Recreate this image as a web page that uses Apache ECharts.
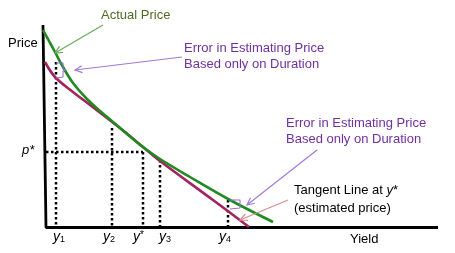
<!DOCTYPE html>
<html><head><meta charset="utf-8">
<script src="https://cdn.jsdelivr.net/npm/echarts@6/dist/echarts.min.js"></script>
<style>html,body{margin:0;padding:0;background:#fff}#c{width:455px;height:253px}</style>
</head><body><div id="c"></div>
<script>
// Data in chart units (x = yield, y = price)
const actualPrice = [[0.3,20.0],[1.5,17.8],[2.3,16.3],[3.3,14.7],[4.7,13.1],[6.0,11.9],[7.3,10.8],[8.7,9.6],[10.3,8.3],[12.0,7.1],[15.0,5.3],[19.0,3.0],[23.3,0.8]];
const tangentPrice = [[0.5,16.8],[1.5,15.3],[3.3,13.8],[5.0,12.5],[6.7,11.2],[8.5,9.8],[10.3,8.3],[12.0,6.9],[17.3,3.0],[20.9,0.3]];
const axisPath = [[0.3,20.5],[0.6,0.25],[39.8,0.25]];
const guideX = [1.6, 7.2, 10.3, 12.0, 18.8];
const guideTop = [16.8, 10.2, 7.8, 7.0, 3.0];
const pStar = 7.8;
const yStar = 10.3;
const axisBase = 0.3;
const axisLeft = 0.6;
const tickNames = ['1','2','*','3','4'];
const bracket1 = [[1.6,16.7],[2.3,16.7],[2.3,16.1],[2.6,16.0],[2.3,15.9],[2.3,15.3],[1.6,15.2]];
const bracket2 = [[19.0,3.0],[20.0,3.0],[20.0,2.6],[20.2,2.5],[20.0,2.4],[20.0,2.2],[19.0,2.1]];
// arrows: tailX, tailY, headX, headY
const arrowGreen = [6.3,20.5,1.5,17.7];
const arrowPurple1 = [14.2,17.3,3.5,16.0];
const arrowPurple2 = [27.7,8.0,20.7,2.5];
const arrowPink = [24.8,3.0,20.0,1.0];

const chart = echarts.init(document.getElementById('c'), null, {renderer:'canvas'});
const dotted = {color:'#000', width:2.5, type:[2.5,2.5], cap:'butt'};
const guideSeries = guideX.map((x,i)=>({
  type:'line', data:[[x,guideTop[i]],[x,axisBase]], symbol:'none', lineStyle:dotted, silent:true, z:1
}));
guideSeries.push({type:'line', data:[[axisLeft,pStar],[yStar,pStar]], symbol:'none', lineStyle:dotted, silent:true, z:1});

const arrows = [
  {value:arrowGreen, color:'#6aaa58'},
  {value:arrowPurple1, color:'#a07ad6'},
  {value:arrowPurple2, color:'#a07ad6'},
  {value:arrowPink, color:'#d49090'}
];

function renderArrow(params, api){
  const t = api.coord([api.value(0), api.value(1)]);
  const h = api.coord([api.value(2), api.value(3)]);
  const color = arrows[params.dataIndex].color;
  const ang = Math.atan2(t[1]-h[1], t[0]-h[0]);
  const L = 8, s = 0.45;
  const w1 = [h[0]+L*Math.cos(ang+s), h[1]+L*Math.sin(ang+s)];
  const w2 = [h[0]+L*Math.cos(ang-s), h[1]+L*Math.sin(ang-s)];
  return {type:'group', children:[
    {type:'line', shape:{x1:t[0],y1:t[1],x2:h[0],y2:h[1]}, style:{stroke:color, lineWidth:1.2}},
    {type:'polyline', shape:{points:[w1,h,w2]}, style:{stroke:color, lineWidth:1.2, fill:null}}
  ]};
}

const ital = {fontFamily:'Liberation Sans', fontStyle:'italic', fontSize:14, color:'#000'};
const sub = {fontFamily:'Liberation Sans', fontSize:9, color:'#000', verticalAlign:'bottom', padding:[0,0,0,0]};
const tickX = [60, 110, 140, 166, 226];

const graphics = [
  {type:'text', left:8, top:37, style:{text:'Price', font:'13px "Liberation Sans"', fill:'#000'}},
  {type:'text', left:101, top:9, style:{text:'Actual Price', font:'13px "Liberation Sans"', fill:'#4f6a22'}},
  {type:'text', left:184, top:40, style:{text:'Error in Estimating Price\nBased only on Duration', font:'13px "Liberation Sans"', fill:'#7030a0', lineHeight:16}},
  {type:'text', left:286, top:115, style:{text:'Error in Estimating Price\nBased only on Duration', font:'13px "Liberation Sans"', fill:'#7030a0', lineHeight:16}},
  {type:'text', left:294, top:184, style:{text:'{n|Tangent Line at }{i|y}{n|*}\n{n|(estimated price)}', rich:{n:{fontFamily:'Liberation Sans', fontSize:13, fill:'#000', lineHeight:18}, i:{fontFamily:'Liberation Sans', fontStyle:'italic', fontSize:13, fill:'#000', lineHeight:18}}}},
  {type:'text', left:350, top:233, style:{text:'Yield', font:'13px "Liberation Sans"', fill:'#000'}},
  {type:'text', left:22, top:144, style:{text:'p*', font:'italic 13px "Liberation Sans"', fill:'#000'}}
];
tickNames.forEach((n,i)=>{
  graphics.push({type:'text', left:tickX[i]-7, top:230, style:{
    text: n==='*' ? '{y|y}{s|*}' : '{y|y}{b|'+n+'}',
    rich:{y:{fontFamily:'Liberation Sans', fontStyle:'italic', fontSize:14, fill:'#000'},
          b:{fontFamily:'Liberation Sans', fontSize:9, fill:'#000', verticalAlign:'bottom'},
          s:{fontFamily:'Liberation Sans', fontSize:10, fill:'#000', verticalAlign:'top'}}
  }});
});

chart.setOption({
  animation:false,
  grid:{left:40, right:15, top:20, bottom:23},
  xAxis:{type:'value', min:0, max:40, show:false},
  yAxis:{type:'value', min:0, max:21, show:false},
  series:[
    ...guideSeries,
    {type:'line', data:axisPath, symbol:'none', lineStyle:{color:'#000', width:2.8}, z:3},
    {type:'line', data:tangentPrice, symbol:'none', smooth:0.35, lineStyle:{color:'#a3235e', width:2.6}, z:4},
    {type:'line', data:actualPrice, symbol:'none', smooth:0.35, lineStyle:{color:'#1f8a1f', width:2.6}, z:5},
    {type:'line', data:bracket1, symbol:'none', lineStyle:{color:'#9a6fd0', width:1.1}, z:6},
    {type:'line', data:bracket2, symbol:'none', lineStyle:{color:'#9a6fd0', width:1.1}, z:6},
    {type:'custom', renderItem:renderArrow, data:arrows.map(a=>a.value), encode:{x:[0,2], y:[1,3]}, z:7}
  ],
  graphic:graphics
});
</script></body></html>
